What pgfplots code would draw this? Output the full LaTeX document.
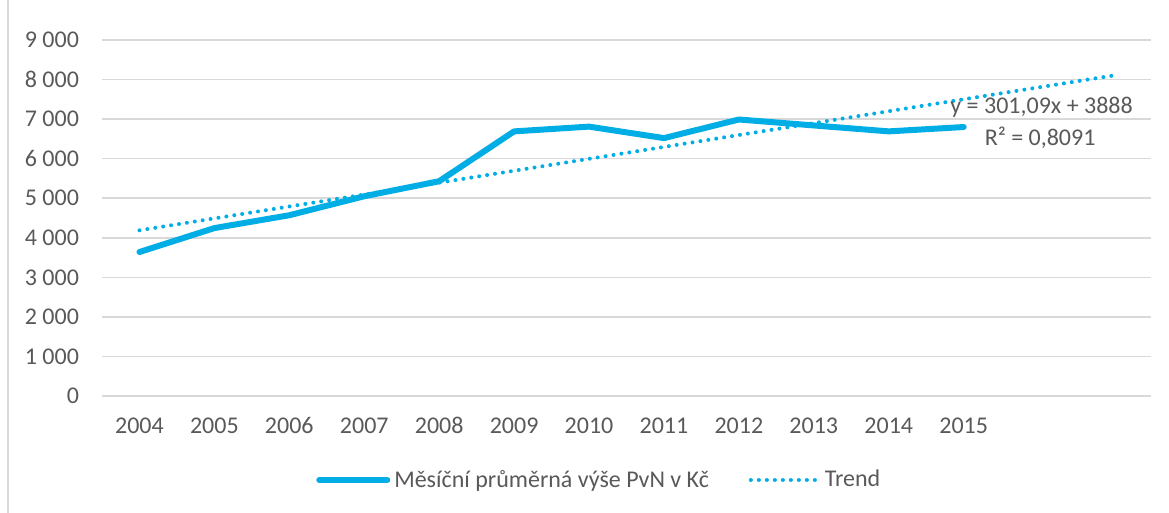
\documentclass[border=0pt]{standalone}
\usepackage{pgfplots}
\pgfplotsset{compat=1.18}
\usepackage{fontspec}
\setmainfont{Carlito}
\definecolor{linec}{RGB}{0,173,228}
\definecolor{gridc}{RGB}{217,217,217}
\definecolor{txt}{RGB}{89,89,89}
\pgfplotsset{my legend/.style={legend image code/.code={\draw[##1] (0pt,0pt) -- (34pt,0pt);}}}
\begin{document}
\begin{tikzpicture}[x=0.5pt,y=0.5pt]
\useasboundingbox (0,0) rectangle (1169,513);
\draw[gridc, line width=1.2pt] (8,0) -- (8,513);
\begin{axis}[
  at={(51pt,58.5pt)}, anchor=south west,
  scale only axis, width=524.5pt, height=178pt,
  xmin=0.5, xmax=14.5, ymin=0, ymax=9000,
  xtick={1,...,12},
  xticklabels={2004,2005,2006,2007,2008,2009,2010,2011,2012,2013,2014,2015},
  ytick={0,1000,...,9000},
  axis line style={draw=none},
  axis x line*=bottom,
  major tick length=0pt,
  ymajorgrids, grid style={gridc, line width=0.75pt},
  tick label style={font=\fontsize{12}{14}\selectfont, text=txt},
  /pgf/number format/assume math mode=true,
  /pgf/number format/1000 sep={\ },
  yticklabel style={xshift=-8pt},
  xticklabel style={text height=9pt, text depth=0pt, yshift=-6pt},
  legend style={at={(0.475,-0.236)}, anchor=center, draw=none, fill=none,
    font=\fontsize{12}{14}\selectfont, text=txt,
    /tikz/every even column/.append style={column sep=18pt}},
  legend columns=2,
  legend cell align=left,
  my legend,
]
\addplot[linec, line width=3pt, line cap=round, line join=round]
  coordinates {(1,3640) (2,4245) (3,4570) (4,5050) (5,5430) (6,6690)
               (7,6810) (8,6520) (9,6990) (10,6840) (11,6690) (12,6800)};
\addlegendentry{Měsíční průměrná výše PvN v Kč}
\addplot[linec, line width=2pt, line cap=round, dash pattern=on 0pt off 4pt]
  coordinates {(1,4189.09) (14,8103.26)};
\addlegendentry{Trend}
\node[text=txt, font=\fontsize{12}{14}\selectfont] at (axis cs:13.04,7305) {y = 301,09x + 3888};
\node[text=txt, font=\fontsize{12}{14}\selectfont] at (axis cs:13.02,6522) {R² = 0,8091};
\end{axis}
\end{tikzpicture}
\end{document}
